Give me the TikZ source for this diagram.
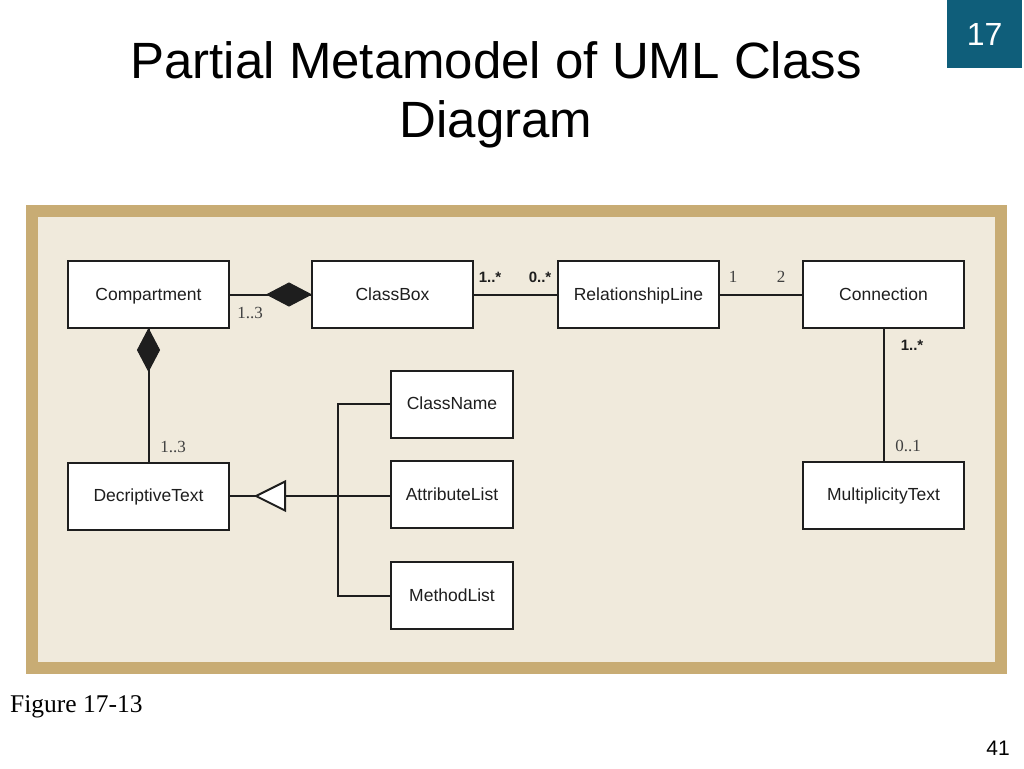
\documentclass[tikz,border=0pt]{standalone}
\usepackage{fontspec}
\setmainfont{Liberation Sans}
\newfontfamily\serifface{Liberation Serif}
\definecolor{tanframe}{RGB}{200,172,116}
\definecolor{creambg}{RGB}{240,234,220}
\definecolor{badgeteal}{RGB}{15,94,122}
\definecolor{inkc}{RGB}{30,30,30}
\begin{document}
\begin{tikzpicture}[x=1pt,y=-1pt,
  cls/.style={draw=inkc,line width=2pt,fill=white,rectangle,minimum width=161pt,minimum height=67pt,inner sep=0pt,font=\fontsize{17.5}{20}\selectfont,text=inkc,text height=13pt,text depth=2pt},
  smallcls/.style={cls,minimum width=122pt},
  conn/.style={draw=inkc,line width=2pt},
  multb/.style={font=\bfseries\fontsize{15}{18}\selectfont,text=inkc,inner sep=0pt},
  mults/.style={font=\serifface\fontsize{17}{20}\selectfont,text=inkc!85,inner sep=0pt}]
\useasboundingbox (0,0) rectangle (1024,768);
\fill[white] (0,0) rectangle (1024,768);
% title
\node[font=\fontsize{51}{59}\selectfont,align=center,anchor=base] (title) at (496,137) {Partial Metamodel of UML Class\\Diagram};
% badge
\node[fill=badgeteal,minimum width=75pt,minimum height=68pt,inner sep=0pt,text=white,font=\fontsize{32}{36}\selectfont,anchor=north west] (badge) at (947,0) {17};
% frame
\fill[tanframe] (26,205) rectangle (1007,674);
\fill[creambg] (38,217) rectangle (995,662);
% classes
\node[cls] (comp) at (148.5,294.5) {Compartment};
\node[cls] (cbox) at (392.5,294.5) {ClassBox};
\node[cls] (rel) at (638.5,294.5) {RelationshipLine};
\node[cls] (con) at (883.5,294.5) {Connection};
\node[cls] (desc) at (148.5,496) {DecriptiveText};
\node[cls] (mult) at (883.5,495) {MultiplicityText};
\node[smallcls] (cname) at (452,404) {ClassName};
\node[smallcls] (alist) at (452,494.5) {AttributeList};
\node[smallcls] (mlist) at (452,595.5) {MethodList};
% compositions
\draw[conn] (comp.east) -- (cbox.west);
\draw[conn,fill=inkc,line width=1pt] (cbox.west) -- ++(-22,-11.5) -- ++(-22,11.5) -- ++(22,11.5) -- cycle;
\draw[conn] (comp.south) -- (desc.north);
\draw[conn,fill=inkc,line width=1pt] (comp.south) -- ++(-11,21) -- ++(11,21) -- ++(11,-21) -- cycle;
% associations
\draw[conn] (cbox.east) -- (rel.west);
\draw[conn] (rel.east) -- (con.west);
\draw[conn] (con.south) -- (mult.north);
% generalization
\coordinate (junc) at (338,496);
\coordinate (gtip) at (256,496);
\draw[conn] (alist.west |- junc) -- (desc.east);
\draw[conn] (cname.west) -| (junc) |- (mlist.west);
\draw[conn,fill=white] (gtip) -- ++(29,-14.5) -- ++(0,29) -- cycle;
% multiplicities
\node[mults] (m1) at (250,313) {1..3};
\node[mults] (m2) at (173,447) {1..3};
\node[multb] (m3) at (490,277) {1..*};
\node[multb] (m4) at (540,277) {0..*};
\node[mults] (m5) at (733,277) {1};
\node[mults] (m6) at (781,277) {2};
\node[multb] (m7) at (912,345) {1..*};
\node[mults] (m8) at (908,446) {0..1};
% footer
\node[font=\serifface\fontsize{25.5}{28}\selectfont,anchor=base west,inner sep=0pt] (fig) at (10,712) {Figure 17-13};
\node[font=\fontsize{21}{24}\selectfont,anchor=base east,inner sep=0pt] (pg) at (1010,755) {41};
\end{tikzpicture}
\end{document}
